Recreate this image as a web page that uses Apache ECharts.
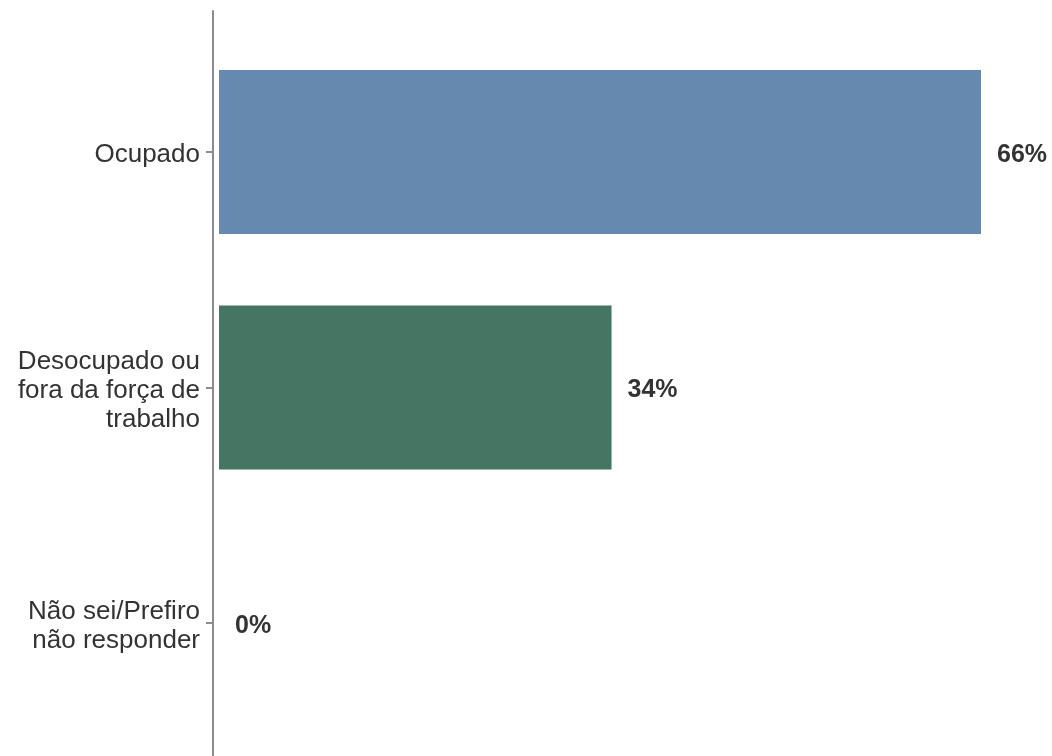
<!DOCTYPE html>
<html>
<head>
<meta charset="utf-8">
<script src="https://cdn.jsdelivr.net/npm/echarts@6/dist/echarts.min.js"></script>
<style>
html,body{margin:0;padding:0;background:#fff;}
#chart{width:1052px;height:756px;}
</style>
</head>
<body>
<div id="chart"></div>
<script>
const categories = ["Ocupado", "Desocupado ou\nfora da força de\ntrabalho", "Não sei/Prefiro\nnão responder"];
const values = [66, 34, 0];
const barColors = ["#6689B0", "#457563", "#8a8a8a"];

const chart = echarts.init(document.getElementById('chart'), null, {renderer: 'canvas'});
const font = '"Liberation Sans", Arial, sans-serif';
const axisGray = '#8c8c8c';

chart.setOption({
  animation: false,
  backgroundColor: '#ffffff',
  grid: [
    {left: 213, right: 0, top: 34.25, height: 706.5, containLabel: false},
    {left: 213, right: 0, top: 11, bottom: 0, containLabel: false},
    {left: 213, right: 0, top: 37.25, height: 706.5, containLabel: false}
  ],
  xAxis: [
    {gridIndex: 0, type: 'value', min: -0.52, max: 72.15, show: false},
    {gridIndex: 1, type: 'value', min: 0, max: 1, show: false},
    {gridIndex: 2, type: 'value', min: 0, max: 1, show: false}
  ],
  yAxis: [
    {
      gridIndex: 0, type: 'category', data: categories, inverse: true,
      axisLine: {show: false, onZero: false},
      axisTick: {show: true, inside: false, alignWithLabel: true, length: 7, lineStyle: {color: axisGray, width: 2}},
      axisLabel: {show: false},
      splitLine: {show: false}
    },
    {
      gridIndex: 1, type: 'value', min: 0, max: 1,
      axisLine: {show: true, onZero: false, lineStyle: {color: axisGray, width: 2}},
      axisTick: {show: false}, axisLabel: {show: false}, splitLine: {show: false}
    },
    {
      gridIndex: 2, type: 'category', data: categories, inverse: true,
      axisLine: {show: false, onZero: false}, axisTick: {show: false}, splitLine: {show: false},
      axisLabel: {fontFamily: font, fontSize: 26, color: '#333333', lineHeight: 29, margin: 13, align: 'right'}
    }
  ],
  series: [{
    type: 'bar',
    xAxisIndex: 0, yAxisIndex: 0,
    barWidth: '69.6%',
    data: values.map((v, i) => ({value: v, itemStyle: {color: barColors[i]}})),
    label: {
      show: true, position: 'right', distance: 16, offset: [0, 3],
      formatter: p => p.value + '%',
      fontFamily: font, fontSize: 25, fontWeight: 'bold', color: '#333333'
    }
  }]
});
</script>
</body>
</html>
